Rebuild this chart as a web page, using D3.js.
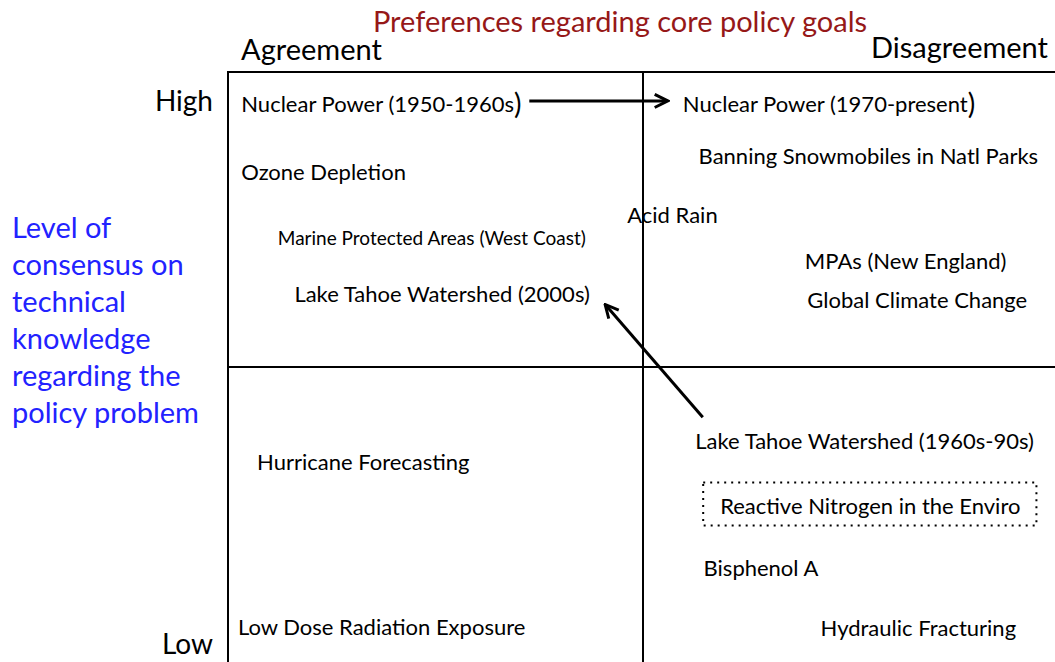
<!DOCTYPE html>
<html>
<head>
<meta charset="utf-8">
<script src="https://d3js.org/d3.v7.min.js"></script>
<style>
  body { margin: 0; padding: 0; background: #fff; }
  svg text { font-family: Lato, "Open Sans", sans-serif; }
</style>
</head>
<body>
<div id="chart"></div>
<script>
// policy issues: preference disagreement (0-100) and technical consensus (0-100)
var issues = ["Nuclear Power (1950-1960s", "Nuclear Power (1970-present", "Banning Snowmobiles in Natl Parks",
  "Ozone Depletion", "Acid Rain", "Marine Protected Areas (West Coast)", "MPAs (New England)",
  "Lake Tahoe Watershed (2000s)", "Global Climate Change", "Hurricane Forecasting",
  "Lake Tahoe Watershed (1960s-90s)", "Reactive Nitrogen in the Enviro", "Bisphenol A",
  "Low Dose Radiation Exposure", "Hydraulic Fracturing"];
var disagreement = [1.6, 54.8, 56.7, 1.6, 48.1, 6.0, 69.5, 8.0, 69.8, 3.5, 56.3, 59.3, 57.3, 1.2, 71.4];
var consensus   = [94.6, 94.6, 85.9, 83.2, 75.9, 72.0, 68.1, 62.5, 61.4, 33.9, 37.6, 26.6, 16.1, 6.1, 5.9];
var small = ["Marine Protected Areas (West Coast)"];
var boxed = ["Reactive Nitrogen in the Enviro"];
var bigParen = ["Nuclear Power (1950-1960s", "Nuclear Power (1970-present"];

// arrows: from -> to (same units)
var arrowFrom = [[36.3, 95.1], [57.2, 41.5]];
var arrowTo   = [[52.9, 95.1], [45.5, 60.5]];

var yLabelLines = ["Level of", "consensus on", "technical", "knowledge", "regarding the", "policy problem"];

var W = 1055, H = 662;
var svg = d3.select("#chart").append("svg").attr("width", W).attr("height", H);

var x = d3.scaleLinear().domain([0, 100]).range([228, 1058]);
var y = d3.scaleLinear().domain([0, 100]).range([662, 72]);

// frame and quadrant lines
svg.append("rect")
  .attr("x", x(0)).attr("y", y(100))
  .attr("width", x(100) - x(0)).attr("height", y(0) - y(100) + 2)
  .attr("fill", "none").attr("stroke", "#000").attr("stroke-width", 2);
svg.append("line").attr("x1", x(50)).attr("x2", x(50)).attr("y1", y(100)).attr("y2", y(0) + 2)
  .attr("stroke", "#000").attr("stroke-width", 2);
svg.append("line").attr("x1", x(0)).attr("x2", x(100)).attr("y1", y(50)).attr("y2", y(50))
  .attr("stroke", "#000").attr("stroke-width", 2);

// titles
svg.append("text").attr("x", 620).attr("y", 32).attr("text-anchor", "middle")
  .attr("font-size", 29).attr("fill", "#961818").text("Preferences regarding core policy goals");
svg.append("text").attr("x", 241).attr("y", 60).attr("font-size", 29).text("Agreement");
svg.append("text").attr("x", 1048).attr("y", 58).attr("text-anchor", "end").attr("font-size", 29).text("Disagreement");
svg.append("text").attr("x", 213).attr("y", 111).attr("text-anchor", "end").attr("font-size", 28).text("High");
svg.append("text").attr("x", 213).attr("y", 654).attr("text-anchor", "end").attr("font-size", 28).text("Low");

svg.append("g").selectAll("text").data(yLabelLines).enter().append("text")
  .attr("x", 12).attr("y", function (d, i) { return 238 + i * 37; })
  .attr("font-size", 29).attr("fill", "#2222ff").text(function (d) { return d; });

// arrow marker
svg.append("defs").append("marker")
  .attr("id", "head").attr("viewBox", "0 0 10 10").attr("refX", 8.5).attr("refY", 5)
  .attr("markerWidth", 5.5).attr("markerHeight", 5.5).attr("orient", "auto")
  .append("path").attr("d", "M1,1 L9,5 L1,9").attr("fill", "none").attr("stroke", "#000").attr("stroke-width", 1.8);

svg.append("g").selectAll("line").data(arrowFrom).enter().append("line")
  .attr("x1", function (d) { return x(d[0]); }).attr("y1", function (d) { return y(d[1]); })
  .attr("x2", function (d, i) { return x(arrowTo[i][0]); }).attr("y2", function (d, i) { return y(arrowTo[i][1]); })
  .attr("stroke", "#000").attr("stroke-width", 3).attr("marker-end", "url(#head)");

// issue labels
var labels = svg.append("g").selectAll("text").data(issues).enter().append("text")
  .attr("x", function (d, i) { return x(disagreement[i]); })
  .attr("y", function (d, i) { return y(consensus[i]); })
  .attr("dominant-baseline", "central")
  .attr("font-size", function (d) { return small.indexOf(d) >= 0 ? 19 : 22; })
  .attr("fill", "#000")
  .text(function (d) { return d; });

labels.filter(function (d) { return bigParen.indexOf(d) >= 0; })
  .append("tspan").attr("font-size", 28).attr("dy", -1).text(")");

labels.filter(function (d) { return boxed.indexOf(d) >= 0; }).each(function () {
  var b = this.getBBox();
  svg.append("rect")
    .attr("x", b.x - 17).attr("y", b.y - 9).attr("width", b.width + 33).attr("height", b.height + 16)
    .attr("fill", "none").attr("stroke", "#000").attr("stroke-width", 2)
    .attr("stroke-dasharray", "2,5");
});
</script>
</body>
</html>
